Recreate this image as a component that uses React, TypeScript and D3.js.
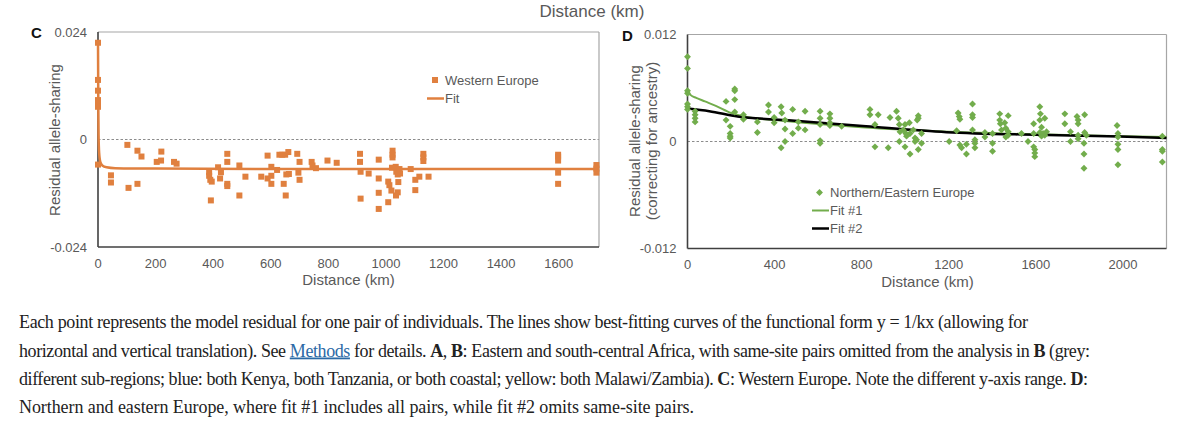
import { useLayoutEffect, useRef } from 'react';
import * as d3 from 'd3';

// Panel C: Western Europe residuals (distance km, residual)
const cDist = [
  0, 0, 0, 0, 0, 0, 0, 45, 45, 102, 106, 137, 151, 137, 204, 219, 220, 264, 273,
  386, 386, 390, 395, 392, 417, 424, 427, 449, 449, 449, 449, 491, 491, 512,
  567, 589, 589, 602, 602, 602, 622, 630, 640, 650, 661, 645, 652, 654, 663,
  692, 700, 696, 700, 742, 745, 757, 797, 829, 910, 910, 912, 912, 940,
  975, 975, 975, 975, 1008, 1012, 1008, 1019, 1023, 1023, 1023, 1021, 1034, 1036,
  1041, 1043, 1041, 1035, 1047, 1049, 1086, 1102, 1102, 1116, 1130, 1130, 1130, 1148,
  1598, 1598, 1598, 1598, 1598, 1731, 1731, 1731,
];
const cResid = [
  0.0216, 0.0133, 0.0109, 0.0088, 0.0081, 0.0073, -0.0056, -0.008, -0.0096, -0.0012, -0.0108, -0.0025, -0.0038, -0.0099, -0.005, -0.0047, -0.0027, -0.005, -0.0054,
  -0.0073, -0.0081, -0.009, -0.0094, -0.0136, -0.0062, -0.0087, -0.0073, -0.0032, -0.005, -0.0099, -0.0104, -0.0058, -0.0125, -0.0083,
  -0.0083, -0.0036, -0.0087, -0.0061, -0.0081, -0.0099, -0.0068, -0.0034, -0.0034, -0.0034, -0.0028, -0.0099, -0.0125, -0.0078, -0.0077,
  -0.0032, -0.005, -0.0074, -0.009, -0.005, -0.0058, -0.0064, -0.0047, -0.0052, -0.0032, -0.005, -0.0072, -0.0132, -0.0076,
  -0.0045, -0.0087, -0.0119, -0.0155, -0.0094, -0.0102, -0.014, -0.0114, -0.0025, -0.0034, -0.004, -0.0063, -0.0061, -0.0072,
  -0.0078, -0.0095, -0.0118, -0.0125, -0.0066, -0.0076, -0.0066, -0.009, -0.0113, -0.0083, -0.0032, -0.004, -0.0048, -0.0083,
  -0.0034, -0.0038, -0.0047, -0.0074, -0.0099, -0.0057, -0.0065, -0.0074,
];
const cFitDist = [0, 1, 2, 4, 8, 15, 30, 60, 200, 1000, 1740];
const cFitVal = [0.0216, 0.008, 0.001, -0.003, -0.005, -0.0058, -0.0062, -0.0064, -0.0065, -0.0066, -0.0066];
const cXTicks = [0, 200, 400, 600, 800, 1000, 1200, 1400, 1600];
const cYTicks = [-0.024, 0, 0.024];

// Panel D: Northern/Eastern Europe residuals
const dDist = [
  0, 0, 0, 0, 0, 0, 0, 35, 35, 35, 35, 177, 177, 196, 196, 196, 196, 217, 217, 217, 217,
  257, 257, 321, 321, 372, 372, 398, 398, 430, 433, 430, 448, 448, 448,
  483, 483, 509, 509, 540, 540, 609, 609, 609, 609, 609, 654, 654, 654, 654, 708,
  838, 838, 861, 876, 861,
  922, 930, 960, 968, 973, 976, 973, 991, 999, 1003, 1006, 999, 1019, 1022, 1022, 1037, 1045, 1045, 1052, 1055, 1060, 1060, 1060, 1075, 1075,
  1202, 1243, 1248, 1251, 1236, 1251, 1259, 1281, 1281, 1309, 1309, 1309, 1309, 1320, 1320, 1320,
  1366, 1366, 1401, 1401, 1401, 1434, 1434, 1437, 1442, 1457, 1462, 1462, 1473, 1473, 1473,
  1534, 1564, 1590, 1590, 1590, 1595, 1595, 1595, 1618, 1621, 1618, 1626, 1618, 1633, 1641, 1626, 1641, 1649,
  1733, 1733, 1759, 1759, 1789, 1794, 1794, 1794, 1794, 1824, 1824, 1821, 1821, 1821, 1832,
  1973, 1977, 1977, 1977, 1977, 1977, 2181, 2181, 2181, 2181,
];
const dResid = [
  0.0095, 0.0082, 0.0057, 0.0054, 0.0042, 0.0039, 0.0036, 0.0034, 0.003, 0.0026, 0.0022, 0.0045, 0.0024, 0.0017, 0.0009, 0.0006, 0.0004, 0.0057, 0.0059, 0.0047, 0.0033,
  0.003, 0.0025, 0.0022, 0.001, 0.0041, 0.0033, 0.0027, 0.0021, 0.0039, 0.0032, -0.0007, 0.0024, 0.0014, 0.0,
  0.0036, 0.0009, 0.0022, 0.0015, 0.0034, 0.0013, 0.0034, 0.0026, 0.0019, 0.0001, -0.0002, 0.0031, 0.0026, 0.0021, 0.0018, 0.0017,
  0.0036, 0.003, 0.0019, 0.003, -0.0006,
  -0.0007, 0.0027, 0.0034, 0.0026, 0.0019, 0.0011, 0.0, 0.0013, 0.0019, 0.0009, 0.0006, -0.0006, 0.0021, 0.0009, -0.0014, 0.0013, 0.0004, 0.0, 0.0002, 0.0024, 0.0029, 0.0026, -0.0009, 0.0009, -0.0002,
  0.0, 0.0032, 0.0028, 0.0025, 0.0012, -0.0004, -0.0007, -0.0003, -0.0014, 0.0042, 0.003, 0.0027, 0.0013, 0.0002, -0.0002, -0.0007,
  0.001, 0.0005, 0.0009, -0.0002, -0.0011, 0.0031, 0.0024, 0.002, 0.0013, 0.0021, 0.0015, 0.0005, 0.0029, 0.0011, 0.0007,
  0.0009, 0.0, 0.002, 0.0009, -0.0006, -0.0009, -0.0013, -0.0017, 0.0039, 0.0031, 0.0024, 0.0016, 0.001, 0.0009, 0.0007, 0.0006, 0.0026, 0.0011,
  0.0031, 0.002, 0.0011, 0.0, 0.0028, 0.0024, 0.002, 0.0007, 0.0003, 0.003, 0.001, -0.0002, -0.0014, -0.003, 0.0007,
  0.0018, 0.0009, 0.0005, -0.0003, -0.0009, -0.0026, 0.0006, -0.0009, -0.0011, -0.0023,
];
const dFit1Dist = [0, 5, 15, 40, 80, 130, 200, 260, 450, 800, 1200, 1600, 2000, 2200];
const dFit1Val = [0.0059, 0.0055, 0.0052, 0.0049, 0.0045, 0.004, 0.0032, 0.0028, 0.0023, 0.0016, 0.0011, 0.0008, 0.0006, 0.0005];
const dFit2Dist = [0, 100, 230, 450, 820, 1190, 1600, 1985, 2200];
const dFit2Val = [0.0037, 0.0034, 0.0028, 0.0024, 0.0017, 0.00105, 0.00075, 0.00056, 0.00038];
const dXTicks = [0, 400, 800, 1200, 1600, 2000];
const dYTicks = [-0.012, 0, 0.012];

// right edge each caption line reaches in the reference
const captionWidths = [1009, 1071, 1069, 675];

const ORANGE = '#e0803f';
const GREEN = '#72ad4c';
const AXIS_TEXT = '#595959';
const SANS = '"Liberation Sans", Arial, sans-serif';
const SERIF = '"Liberation Serif", "DejaVu Serif", serif';

const fmtY = (v: number) => (v === 0 ? '0' : v < 0 ? `-${Math.abs(v).toFixed(3)}` : v.toFixed(3));

type FrameProps = {
  x: d3.ScaleLinear<number, number>;
  y: d3.ScaleLinear<number, number>;
  xTicks: number[];
  yTicks: number[];
};

function Frame({ x, y, xTicks, yTicks }: FrameProps) {
  const [x0, x1] = x.range();
  const [y0, y1] = y.range();
  return (
    <g>
      <line x1={x0} x2={x1} y1={y(0)} y2={y(0)} stroke="#8c8c8c" strokeWidth={1} strokeDasharray="2.5,2" />
      <line x1={x0} x2={x1} y1={y1} y2={y1} stroke="#a6a6a6" strokeWidth={1.2} />
      <line x1={x1} x2={x1} y1={y1} y2={y0} stroke="#a6a6a6" strokeWidth={1.2} />
      <line x1={x0} x2={x1} y1={y0} y2={y0} stroke="#404040" strokeWidth={1.6} />
      <line x1={x0} x2={x0} y1={y1} y2={y0} stroke="#404040" strokeWidth={1.6} />
      {yTicks.map((t) => (
        <text key={t} x={x0 - 11} y={y(t)} dy="0.35em" textAnchor="end" fontSize={13} fill={AXIS_TEXT} fontFamily={SANS}>
          {fmtY(t)}
        </text>
      ))}
      {xTicks.map((t) => (
        <text key={t} x={x(t)} y={y0 + 16} dy="0.35em" textAnchor="middle" fontSize={13} fill={AXIS_TEXT} fontFamily={SANS}>
          {t}
        </text>
      ))}
    </g>
  );
}

export default function App() {
  const captionRefs = useRef<(SVGTextElement | null)[]>([]);

  // stretch caption lines with letter-spacing so each ends where the reference's does
  useLayoutEffect(() => {
    captionRefs.current.forEach((el, i) => {
      if (!el) return;
      el.setAttribute('letter-spacing', '0');
      const natural = el.getComputedTextLength();
      const n = el.getNumberOfChars();
      if (n > 1) el.setAttribute('letter-spacing', String((captionWidths[i] - natural) / (n - 1)));
    });
  }, []);

  // panel C scales
  const cx = d3.scaleLinear().domain([0, 1740]).range([98, 599]);
  const cy = d3.scaleLinear().domain([-0.024, 0.024]).range([247, 32]);
  // panel D scales
  const dx = d3.scaleLinear().domain([0, 2200]).range([687.5, 1166.5]);
  const dy = d3.scaleLinear().domain([-0.012, 0.012]).range([248.5, 34.5]);

  const cLine = d3
    .line<number>()
    .x((_, i) => cx(cFitDist[i]))
    .y((v) => cy(v))
    .curve(d3.curveMonotoneX);
  const dLine1 = d3
    .line<number>()
    .x((_, i) => dx(dFit1Dist[i]))
    .y((v) => dy(v))
    .curve(d3.curveMonotoneX);
  const dLine2 = d3
    .line<number>()
    .x((_, i) => dx(dFit2Dist[i]))
    .y((v) => dy(v))
    .curve(d3.curveMonotoneX);

  const diamond = d3.symbol().type(d3.symbolSquare).size(24)() ?? '';

  return (
    <svg width={1200} height={439} style={{ position: 'absolute', left: 0, top: 0, background: '#fff' }}>
      <rect width={1200} height={439} fill="#fff" />

      {/* cropped title of the panels above */}
      <text x={592} y={11} dy="0.35em" textAnchor="middle" fontSize={17} fill={AXIS_TEXT} fontFamily={SANS}>
        Distance (km)
      </text>

      {/* ---- Panel C ---- */}
      <text x={31} y={33} dy="0.35em" fontSize={15} fontWeight="bold" fill="#111" fontFamily={SANS}>
        C
      </text>
      <Frame x={cx} y={cy} xTicks={cXTicks} yTicks={cYTicks} />
      <text
        transform={`translate(55,140) rotate(-90)`}
        dy="0.35em"
        textAnchor="middle"
        fontSize={15}
        fill={AXIS_TEXT}
        fontFamily={SANS}
      >
        Residual allele-sharing
      </text>
      <text x={348.5} y={279.5} dy="0.35em" textAnchor="middle" fontSize={15} fill={AXIS_TEXT} fontFamily={SANS}>
        Distance (km)
      </text>
      <path d={cLine(cFitVal) ?? ''} fill="none" stroke={ORANGE} strokeWidth={2.5} />
      {cDist.map((d, i) => (
        <rect key={i} x={cx(d) - 3} y={cy(cResid[i]) - 3} width={6} height={6} fill={ORANGE} />
      ))}
      {/* legend C */}
      <rect x={432} y={77} width={6} height={6} fill={ORANGE} />
      <text x={445} y={80} dy="0.35em" fontSize={13} fill={AXIS_TEXT} fontFamily={SANS}>
        Western Europe
      </text>
      <line x1={427} x2={444} y1={98.5} y2={98.5} stroke={ORANGE} strokeWidth={2.5} />
      <text x={445} y={98.5} dy="0.35em" fontSize={13} fill={AXIS_TEXT} fontFamily={SANS}>
        Fit
      </text>

      {/* ---- Panel D ---- */}
      <text x={622} y={36} dy="0.35em" fontSize={15} fontWeight="bold" fill="#111" fontFamily={SANS}>
        D
      </text>
      <Frame x={dx} y={dy} xTicks={dXTicks} yTicks={dYTicks} />
      <text transform={`translate(635,141) rotate(-90)`} dy="0.35em" textAnchor="middle" fontSize={15} fill={AXIS_TEXT} fontFamily={SANS}>
        Residual allele-sharing
      </text>
      <text transform={`translate(652,141) rotate(-90)`} dy="0.35em" textAnchor="middle" fontSize={15} fill={AXIS_TEXT} fontFamily={SANS}>
        (correcting for ancestry)
      </text>
      <text x={927.5} y={282} dy="0.35em" textAnchor="middle" fontSize={15} fill={AXIS_TEXT} fontFamily={SANS}>
        Distance (km)
      </text>
      <path d={dLine1(dFit1Val) ?? ''} fill="none" stroke={GREEN} strokeWidth={2} />
      <path d={dLine2(dFit2Val) ?? ''} fill="none" stroke="#000" strokeWidth={2.5} />
      {dDist.map((d, i) => (
        <path key={i} d={diamond} transform={`translate(${dx(d)},${dy(dResid[i])}) rotate(45)`} fill={GREEN} />
      ))}
      {/* legend D */}
      <path d={diamond} transform="translate(819.5,192.5) rotate(45)" fill={GREEN} />
      <text x={830} y={192.5} dy="0.35em" fontSize={13} fill={AXIS_TEXT} fontFamily={SANS}>
        Northern/Eastern Europe
      </text>
      <line x1={812} x2={829} y1={210.5} y2={210.5} stroke={GREEN} strokeWidth={2} />
      <text x={830} y={210.5} dy="0.35em" fontSize={13} fill={AXIS_TEXT} fontFamily={SANS}>
        Fit #1
      </text>
      <line x1={812} x2={829} y1={228.5} y2={228.5} stroke="#000" strokeWidth={2.5} />
      <text x={830} y={228.5} dy="0.35em" fontSize={13} fill={AXIS_TEXT} fontFamily={SANS}>
        Fit #2
      </text>

      {/* ---- Caption ---- */}
      <g fontFamily={SERIF} fontSize={18} fill="#222">
        <text ref={(el) => { captionRefs.current[0] = el; }} x={19} y={328}>
          Each point represents the model residual for one pair of individuals. The lines show best-fitting curves of the functional form y = 1/kx (allowing for
        </text>
        <text ref={(el) => { captionRefs.current[1] = el; }} x={19} y={356.5}>
          horizontal and vertical translation). See{' '}
          <tspan fill="#2b6aa6" textDecoration="underline">
            Methods
          </tspan>{' '}
          for details. <tspan fontWeight="bold">A</tspan>, <tspan fontWeight="bold">B</tspan>: Eastern and south-central Africa, with same-site pairs omitted from the analysis in{' '}
          <tspan fontWeight="bold">B</tspan> (grey:
        </text>
        <text ref={(el) => { captionRefs.current[2] = el; }} x={19} y={385}>
          different sub-regions; blue: both Kenya, both Tanzania, or both coastal; yellow: both Malawi/Zambia). <tspan fontWeight="bold">C</tspan>: Western Europe. Note the
          different y-axis range. <tspan fontWeight="bold">D</tspan>:
        </text>
        <text ref={(el) => { captionRefs.current[3] = el; }} x={19} y={413}>
          Northern and eastern Europe, where fit #1 includes all pairs, while fit #2 omits same-site pairs.
        </text>
      </g>
    </svg>
  );
}
